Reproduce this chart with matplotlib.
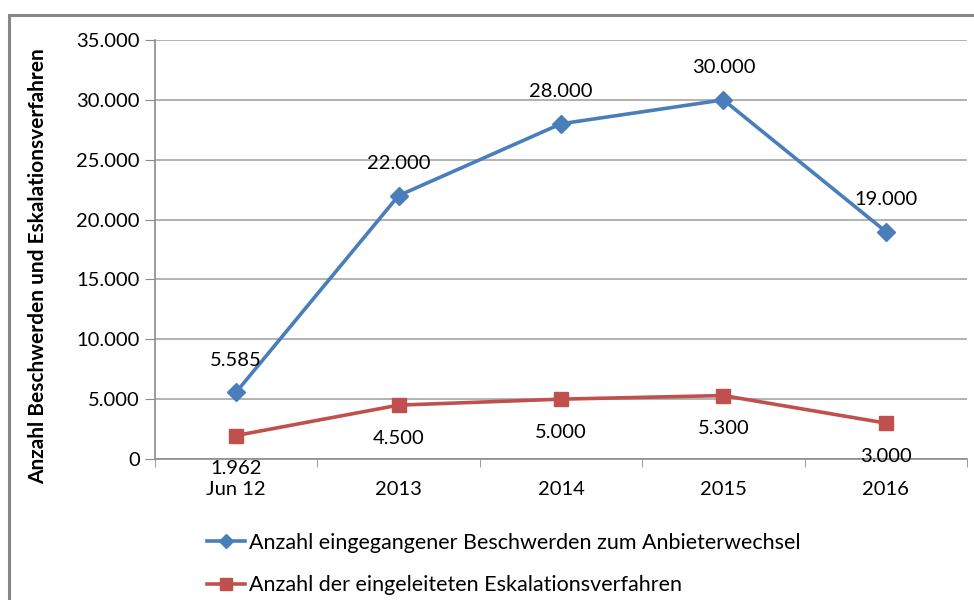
import matplotlib
matplotlib.use("Agg")
import matplotlib.pyplot as plt
from matplotlib.patches import Rectangle

# data
categories = ["Jun 12", "2013", "2014", "2015", "2016"]
beschwerden = [5585, 22000, 28000, 30000, 19000]
eskalationen = [1962, 4500, 5000, 5300, 3000]
beschwerden_labels = ["5.585", "22.000", "28.000", "30.000", "19.000"]
eskalationen_labels = ["1.962", "4.500", "5.000", "5.300", "3.000"]
yticks = [0, 5000, 10000, 15000, 20000, 25000, 30000, 35000]
ytick_labels = ["0", "5.000", "10.000", "15.000", "20.000", "25.000", "30.000", "35.000"]

plt.rcParams['font.family'] = ['Lato', 'DejaVu Sans']

blue = '#4A7EBB'
red = '#C0504D'
grey = '#8C8C8C'

fig = plt.figure(figsize=(9.74, 6.0), dpi=100)
ax = fig.add_axes([155/974, 1 - 459/600, (967 - 155)/974, (459 - 40)/600])

x = list(range(len(categories)))
ax.plot(x, beschwerden, color=blue, lw=2.6, marker='D', ms=9, mfc=blue, mec=blue,
        label='Anzahl eingegangener Beschwerden zum Anbieterwechsel', zorder=3)
ax.plot(x, eskalationen, color=red, lw=2.6, marker='s', ms=10, mfc=red, mec=red,
        label='Anzahl der eingeleiteten Eskalationsverfahren', zorder=3)

for xi, v, t in zip(x, beschwerden, beschwerden_labels):
    ax.annotate(t, (xi, v), xytext=(0, 23), textcoords='offset points',
                ha='center', va='center', fontsize=14.5, color='black')
for xi, v, t in zip(x, eskalationen, eskalationen_labels):
    ax.annotate(t, (xi, v), xytext=(0, -24), textcoords='offset points',
                ha='center', va='center', fontsize=14.5, color='black', zorder=4)

ax.set_xlim(-0.5, len(categories) - 0.5)
ax.set_ylim(0, 35000)
ax.set_yticks(yticks)
ax.set_yticklabels(ytick_labels, fontsize=14.5)
ax.set_xticks(x)
ax.set_xticklabels(categories, fontsize=14.5)
ax.set_xticks([i - 0.5 for i in range(len(categories) + 1)], minor=True)
ax.tick_params(axis='x', which='major', length=0, pad=16)
ax.tick_params(axis='x', which='minor', length=6, color=grey, direction='out')
ax.tick_params(axis='y', length=7, color=grey, pad=4)

ax.grid(axis='y', color='#A6A6A6', lw=1.2)
ax.set_axisbelow(True)
for s in ['top', 'right']:
    ax.spines[s].set_visible(False)
ax.spines['left'].set_color(grey)
ax.spines['bottom'].set_color(grey)
ax.spines['left'].set_linewidth(1.2)
ax.spines['bottom'].set_linewidth(1.2)

ax.set_ylabel('Anzahl Beschwerden und Eskalationsverfahren', fontsize=15,
              fontweight='bold')
ax.yaxis.set_label_coords(-107/812, 0.46)

leg = fig.legend(loc='upper left', bbox_to_anchor=(198/974, 1 - 524/600),
                 frameon=False, fontsize=15.5, handlelength=1.8, handletextpad=0.15,
                 labelspacing=1.05, borderaxespad=0, markerscale=0.8)

fig.patches.append(Rectangle((9/974, -0.1), 1.2, 1 - 15/600 + 0.1,
                             transform=fig.transFigure, fill=False,
                             edgecolor='#878787', lw=2.2))

fig.savefig("out.png", dpi=100)
